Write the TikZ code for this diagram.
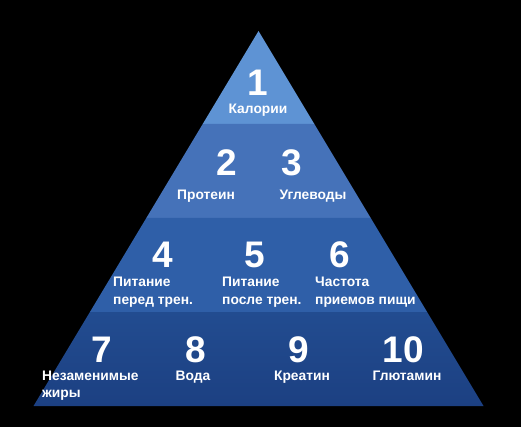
\documentclass[tikz,border=0pt]{standalone}
\usepackage{fontspec}
\setmainfont{Liberation Sans}
\begin{document}
\begin{tikzpicture}[x=1pt,y=-1pt,
  num/.style={text=white,font=\bfseries\fontsize{37}{37}\selectfont,inner sep=0pt,text depth=0pt,anchor=base},
  lbl/.style={text=white,font=\bfseries\fontsize{13.8}{17.5}\selectfont,inner sep=0pt},
  lbll/.style={lbl,align=left,anchor=base west}]
\fill[black] (0,0) rectangle (521,427);
\useasboundingbox (0,0) rectangle (521,427);
\definecolor{tA}{HTML}{5E93D4}
\definecolor{tB}{HTML}{4572B9}
\definecolor{tC}{HTML}{2F5FA8}
\definecolor{tD}{HTML}{224C90}
\definecolor{tDb}{HTML}{1C4082}
% tiers: left x = 258.5-0.6(y-31), right = 258.5+0.6(y-31)
\fill[tA] (258.5,31) -- (314.3,124) -- (202.7,124) -- cycle;
\fill[tB] (202.7,124) -- (314.3,124) -- (370.7,218) -- (146.3,218) -- cycle;
\fill[tC] (146.3,218) -- (370.7,218) -- (427.1,312) -- (89.9,312) -- cycle;
\shade[top color=tD,bottom color=tDb] (89.9,312) -- (427.1,312) -- (483.5,406) -- (33.5,406) -- cycle;
% tier 1
\node[num] (n1) at (258,96) {1};
\node[lbl,anchor=base] (l1) at (258,113.5) {Калории};
% tier 2
\node[num] (n2) at (227,176) {2};
\node[num] (n3) at (292,176) {3};
\node[lbl,anchor=base] (l2) at (206,200) {Протеин};
\node[lbl,anchor=base] (l3) at (313,200) {Углеводы};
% tier 3
\node[num] (n4) at (163,267) {4};
\node[num] (n5) at (255,267) {5};
\node[num] (n6) at (340,267) {6};
\node[lbll] (l4) at (113,304) {Питание\\перед трен.};
\node[lbll] (l5) at (222,304) {Питание\\после трен.};
\node[lbll] (l6) at (315,304) {Частота\\приемов пищи};
% tier 4
\node[num] (n7) at (102,362) {7};
\node[num] (n8) at (196,362) {8};
\node[num] (n9) at (299,362) {9};
\node[num] (n10) at (403,362) {10};
\node[lbll] (l7) at (42,397.5) {Незаменимые\\жиры};
\node[lbl,anchor=base] (l8) at (193,380) {Вода};
\node[lbl,anchor=base] (l9) at (302,380) {Креатин};
\node[lbl,anchor=base] (l10) at (407,380) {Глютамин};
\end{tikzpicture}
\end{document}
